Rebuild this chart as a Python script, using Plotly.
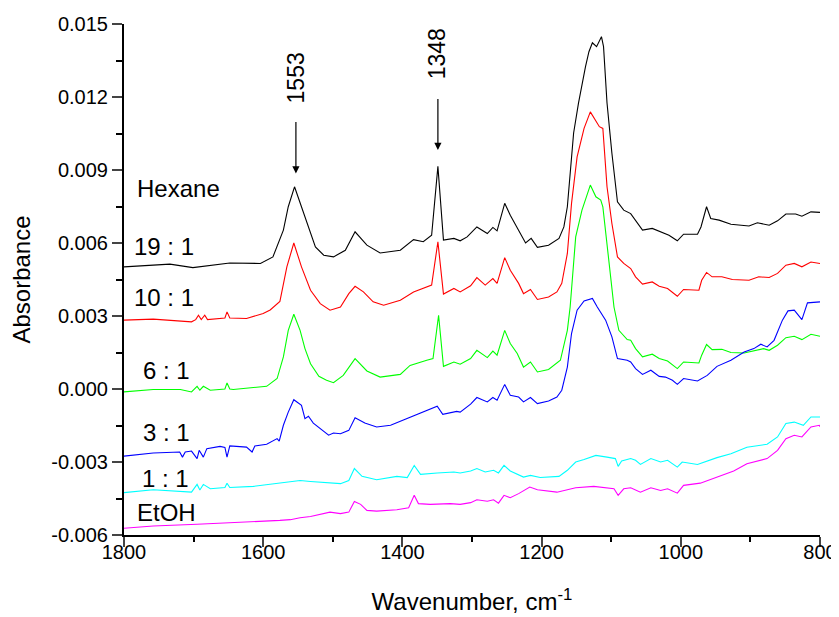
import plotly.graph_objects as go

# ---- data (wavenumber cm-1, absorbance) ----
HEXANE = [(1800,5.02e-3),(1734,5.13e-3),(1701,4.99e-3),(1648,5.18e-3),(1604,5.16e-3),(1586,5.43e-3),
          (1571,6.53e-3),(1564,7.49e-3),(1555,8.31e-3),(1540,7.07e-3),(1525,5.84e-3),(1513,5.50e-3),
          (1499,5.43e-3),(1482,5.70e-3),(1468,6.46e-3),(1451,5.91e-3),(1432,5.59e-3),(1403,5.70e-3),
          (1384,6.14e-3),(1370,6.05e-3),(1358,6.32e-3),(1349,9.15e-3),(1341,6.12e-3),(1326,6.19e-3),
          (1317,6.09e-3),(1307,6.25e-3),(1293,6.66e-3),(1278,6.39e-3),(1270,6.64e-3),(1264,6.50e-3),
          (1253,7.63e-3),(1245,7.14e-3),(1235,6.60e-3),(1223,6.00e-3),(1215,6.19e-3),(1206,5.82e-3),
          (1190,5.91e-3),(1175,6.19e-3),(1168,6.66e-3),(1163,7.49e-3),(1154,10.52e-3),(1147,11.75e-3),
          (1137,13.24e-3),(1132,13.86e-3),(1127,14.23e-3),(1121,14.07e-3),(1114,14.48e-3),(1111,14.07e-3),
          (1106,11.75e-3),(1099,9.69e-3),(1091,7.69e-3),(1082,7.35e-3),(1072,7.21e-3),(1065,6.94e-3),
          (1055,6.53e-3),(1041,6.60e-3),(1029,6.46e-3),(1017,6.32e-3),(1005,6.09e-3),(996,6.36e-3),
          (976,6.36e-3),(971,6.66e-3),(963,7.49e-3),(957,7.01e-3),(945,6.94e-3),(928,6.77e-3),
          (902,6.70e-3),(890,6.83e-3),(873,6.73e-3),(861,6.91e-3),(849,7.19e-3),(835,7.19e-3),
          (826,7.10e-3),(813,7.28e-3),(800,7.26e-3)]

R10_1 = [(1800,2.83e-3),(1758,2.87e-3),(1703,2.76e-3),(1697,2.85e-3),(1693,3.03e-3),(1689,2.85e-3),
         (1684,3.03e-3),(1680,2.85e-3),(1655,2.92e-3),(1652,3.17e-3),(1648,2.92e-3),(1624,2.90e-3),
         (1600,3.10e-3),(1590,3.25e-3),(1576,3.60e-3),(1566,5.02e-3),(1556,6.00e-3),(1545,5.02e-3),
         (1532,4.06e-3),(1518,3.51e-3),(1504,3.24e-3),(1489,3.37e-3),(1477,3.92e-3),(1468,4.22e-3),
         (1456,3.99e-3),(1442,3.58e-3),(1427,3.44e-3),(1403,3.65e-3),(1384,3.99e-3),(1358,4.27e-3),
         (1349,6.05e-3),(1341,3.90e-3),(1326,4.13e-3),(1317,3.99e-3),(1302,4.24e-3),(1293,4.58e-3),
         (1281,4.27e-3),(1270,4.54e-3),(1264,4.34e-3),(1253,5.40e-3),(1245,4.88e-3),(1233,4.34e-3),
         (1226,3.92e-3),(1216,4.09e-3),(1206,3.68e-3),(1190,3.78e-3),(1178,3.99e-3),(1171,4.34e-3),
         (1163,5.57e-3),(1157,7.63e-3),(1149,9.54e-3),(1139,10.71e-3),(1130,11.39e-3),(1122,10.98e-3),
         (1117,10.78e-3),(1112,10.71e-3),(1106,8.31e-3),(1099,6.80e-3),(1091,5.43e-3),(1082,5.16e-3),
         (1072,4.95e-3),(1065,4.61e-3),(1055,4.31e-3),(1041,4.40e-3),(1031,4.22e-3),(1019,4.13e-3),
         (1005,3.81e-3),(996,4.09e-3),(974,4.06e-3),(970,4.47e-3),(963,4.79e-3),(955,4.61e-3),
         (941,4.61e-3),(926,4.50e-3),(902,4.47e-3),(888,4.61e-3),(873,4.58e-3),(861,4.75e-3),
         (849,5.09e-3),(837,5.16e-3),(826,5.02e-3),(813,5.22e-3),(800,5.16e-3)]

R6_1 = [(1800,-0.12e-3),(1758,-0.02e-3),(1719,-0.02e-3),(1703,-0.12e-3),(1695,0.11e-3),(1691,-0.05e-3),
        (1686,0.11e-3),(1676,-0.05e-3),(1655,0.00e-3),(1652,0.25e-3),(1648,0.00e-3),(1643,-0.02e-3),
        (1614,0.06e-3),(1595,0.11e-3),(1580,0.43e-3),(1571,1.32e-3),(1564,2.41e-3),(1556,3.07e-3),
        (1547,2.41e-3),(1540,1.66e-3),(1532,1.04e-3),(1520,0.52e-3),(1509,0.36e-3),(1499,0.26e-3),
        (1485,0.56e-3),(1468,1.25e-3),(1451,0.74e-3),(1432,0.49e-3),(1403,0.60e-3),(1389,0.97e-3),
        (1365,1.18e-3),(1356,1.25e-3),(1348,3.03e-3),(1341,0.93e-3),(1326,1.11e-3),(1317,1.02e-3),
        (1302,1.25e-3),(1293,1.59e-3),(1278,1.29e-3),(1270,1.56e-3),(1264,1.39e-3),(1253,2.41e-3),
        (1245,1.87e-3),(1235,1.46e-3),(1226,0.90e-3),(1216,1.11e-3),(1206,0.70e-3),(1190,0.80e-3),
        (1173,1.18e-3),(1163,2.41e-3),(1159,3.37e-3),(1151,6.25e-3),(1142,7.35e-3),(1130,8.38e-3),
        (1122,7.90e-3),(1115,7.76e-3),(1112,7.49e-3),(1104,5.29e-3),(1096,3.37e-3),(1089,2.41e-3),
        (1077,2.03e-3),(1072,2.00e-3),(1065,1.66e-3),(1055,1.32e-3),(1041,1.43e-3),(1031,1.25e-3),
        (1019,1.15e-3),(1005,0.84e-3),(996,1.11e-3),(974,1.07e-3),(970,1.39e-3),(963,1.83e-3),
        (955,1.62e-3),(941,1.63e-3),(928,1.50e-3),(909,1.48e-3),(895,1.56e-3),(881,1.66e-3),
        (873,1.59e-3),(861,1.80e-3),(849,2.11e-3),(837,2.17e-3),(826,2.03e-3),(813,2.25e-3),
        (800,2.17e-3)]

R3_1 = [(1800,-2.76e-3),(1758,-2.63e-3),(1720,-2.59e-3),(1716,-2.80e-3),(1712,-2.59e-3),(1703,-2.55e-3),
        (1695,-2.86e-3),(1692,-2.52e-3),(1686,-2.80e-3),(1681,-2.45e-3),(1662,-2.36e-3),(1655,-2.40e-3),
        (1652,-2.80e-3),(1648,-2.34e-3),(1624,-2.39e-3),(1616,-2.59e-3),(1612,-2.34e-3),(1595,-2.27e-3),
        (1580,-2.04e-3),(1577,-2.14e-3),(1571,-1.49e-3),(1564,-0.95e-3),(1556,-0.44e-3),(1547,-0.60e-3),
        (1545,-0.67e-3),(1540,-1.22e-3),(1535,-1.12e-3),(1528,-1.40e-3),(1518,-1.63e-3),(1506,-1.90e-3),
        (1499,-1.81e-3),(1489,-1.84e-3),(1477,-1.70e-3),(1468,-1.18e-3),(1454,-1.40e-3),(1437,-1.56e-3),
        (1417,-1.49e-3),(1393,-1.22e-3),(1370,-0.95e-3),(1350,-0.71e-3),(1342,-1.04e-3),(1322,-0.92e-3),
        (1317,-0.95e-3),(1302,-0.62e-3),(1293,-0.35e-3),(1278,-0.53e-3),(1270,-0.35e-3),(1264,-0.46e-3),
        (1253,0.19e-3),(1245,-0.26e-3),(1233,-0.33e-3),(1226,-0.53e-3),(1216,-0.35e-3),(1206,-0.60e-3),
        (1190,-0.49e-3),(1178,-0.33e-3),(1171,-0.05e-3),(1163,0.90e-3),(1157,2.28e-3),(1149,3.24e-3),
        (1139,3.62e-3),(1127,3.72e-3),(1120,3.37e-3),(1108,2.83e-3),(1099,2.14e-3),(1091,1.25e-3),
        (1077,1.18e-3),(1072,1.11e-3),(1065,0.84e-3),(1055,0.60e-3),(1043,0.77e-3),(1031,0.52e-3),
        (1022,0.49e-3),(1012,0.36e-3),(1005,0.19e-3),(996,0.43e-3),(976,0.33e-3),(962,0.56e-3),
        (948,0.93e-3),(928,1.18e-3),(909,1.52e-3),(895,1.66e-3),(885,1.84e-3),(876,1.73e-3),
        (866,2.00e-3),(854,2.83e-3),(846,3.21e-3),(837,3.24e-3),(826,2.85e-3),(818,3.54e-3),
        (800,3.58e-3)]

R1_1 = [(1800,-4.26e-3),(1758,-4.14e-3),(1703,-4.24e-3),(1695,-3.92e-3),(1691,-4.15e-3),(1686,-3.92e-3),
        (1676,-4.10e-3),(1655,-4.05e-3),(1652,-3.87e-3),(1648,-4.05e-3),(1614,-4.00e-3),(1576,-3.87e-3),
        (1561,-3.83e-3),(1547,-3.76e-3),(1532,-3.80e-3),(1513,-3.83e-3),(1489,-3.89e-3),(1477,-3.76e-3),
        (1469,-3.27e-3),(1458,-3.59e-3),(1437,-3.73e-3),(1408,-3.59e-3),(1393,-3.64e-3),(1383,-3.14e-3),
        (1374,-3.51e-3),(1350,-3.45e-3),(1326,-3.41e-3),(1317,-3.45e-3),(1302,-3.37e-3),(1293,-3.27e-3),
        (1281,-3.41e-3),(1269,-3.34e-3),(1262,-3.45e-3),(1254,-3.14e-3),(1245,-3.37e-3),(1226,-3.62e-3),
        (1216,-3.55e-3),(1202,-3.64e-3),(1175,-3.59e-3),(1163,-3.34e-3),(1151,-3.00e-3),(1139,-2.90e-3),
        (1122,-2.73e-3),(1106,-2.80e-3),(1094,-2.86e-3),(1090,-3.18e-3),(1085,-2.96e-3),(1072,-2.86e-3),
        (1065,-2.93e-3),(1058,-3.10e-3),(1043,-2.86e-3),(1029,-3.00e-3),(1019,-2.93e-3),(1005,-3.21e-3),
        (998,-3.00e-3),(976,-3.10e-3),(948,-2.82e-3),(928,-2.66e-3),(905,-2.39e-3),(876,-2.27e-3),
        (861,-1.97e-3),(849,-1.42e-3),(837,-1.36e-3),(824,-1.49e-3),(813,-1.15e-3),(800,-1.15e-3)]

ETOH = [(1800,-5.72e-3),(1758,-5.63e-3),(1695,-5.56e-3),(1652,-5.51e-3),(1614,-5.47e-3),(1576,-5.40e-3),
        (1561,-5.37e-3),(1547,-5.29e-3),(1532,-5.24e-3),(1504,-5.06e-3),(1489,-5.12e-3),(1477,-5.06e-3),
        (1469,-4.62e-3),(1460,-4.74e-3),(1451,-4.99e-3),(1437,-5.02e-3),(1408,-4.96e-3),(1391,-4.88e-3),
        (1383,-4.37e-3),(1377,-4.71e-3),(1360,-4.74e-3),(1331,-4.71e-3),(1317,-4.74e-3),(1302,-4.67e-3),
        (1293,-4.55e-3),(1278,-4.61e-3),(1269,-4.55e-3),(1262,-4.69e-3),(1254,-4.37e-3),(1245,-4.47e-3),
        (1233,-4.30e-3),(1217,-4.03e-3),(1206,-4.14e-3),(1178,-4.24e-3),(1151,-4.06e-3),(1125,-4.00e-3),
        (1096,-4.10e-3),(1090,-4.37e-3),(1082,-4.10e-3),(1072,-4.06e-3),(1058,-4.24e-3),(1043,-4.06e-3),
        (1029,-4.17e-3),(1019,-4.10e-3),(1005,-4.28e-3),(996,-3.96e-3),(972,-3.87e-3),(948,-3.62e-3),
        (924,-3.37e-3),(905,-3.07e-3),(876,-2.86e-3),(861,-2.52e-3),(849,-2.04e-3),(837,-1.90e-3),
        (826,-1.97e-3),(813,-1.56e-3),(801,-1.49e-3),(800,-1.55e-3)]

SERIES = [("Hexane", HEXANE, "#000000"), ("10 : 1", R10_1, "#FF0000"), ("6 : 1", R6_1, "#00FF00"),
          ("3 : 1", R3_1, "#0000FF"), ("1 : 1", R1_1, "#00FFFF"), ("EtOH", ETOH, "#FF00FF")]

# curve labels: (text, wavenumber, absorbance)
LABELS = [("Hexane", 1784, 8.25e-3), ("19 : 1", 1789, 5.87e-3), ("10 : 1", 1789, 3.77e-3),
          ("6 : 1", 1775, 0.77e-3), ("3 : 1", 1775, -1.77e-3), ("1 : 1", 1777, -3.69e-3),
          ("EtOH", 1784, -5.06e-3)]

# peak markers: (label, wavenumber, text y, arrow start y, arrow tip y)
PEAKS = [("1553", 1553, 12.8e-3, 11.05e-3, 8.86e-3), ("1348", 1349, 13.79e-3, 12.0e-3, 9.82e-3)]

Y_TICKS = [-0.006, -0.003, 0.000, 0.003, 0.006, 0.009, 0.012, 0.015]
Y_TICKTEXT = ["-0.006", "-0.003", "0.000", "0.003", "0.006", "0.009", "0.012", "0.015"]
X_TICKS = [1800, 1600, 1400, 1200, 1000, 800]

FONT = "Liberation Sans, Arial, sans-serif"

fig = go.Figure()
for name, pts, col in SERIES:
    xs = [p[0] for p in pts]
    ys = [p[1] for p in pts]
    fig.add_trace(go.Scatter(x=xs, y=ys, mode="lines", name=name,
                             line=dict(color=col, width=1.1), showlegend=False))

for text, xw, ya in LABELS:
    fig.add_annotation(x=xw, y=ya, text=text, showarrow=False, xanchor="left", yanchor="middle",
                       font=dict(family=FONT, size=24, color="black"))

for text, xw, yt, y0, y1 in PEAKS:
    fig.add_annotation(x=xw, y=yt, text=text, showarrow=False, textangle=-90,
                       font=dict(family=FONT, size=23, color="black"))
    fig.add_annotation(x=xw, y=y1, ax=xw, ay=y0, axref="x", ayref="y", text=" ",
                       showarrow=True, arrowhead=2, arrowsize=1.2, arrowwidth=1.2, arrowcolor="black",
                       font=dict(size=1))

# the page body keeps an 8px margin, so the figure is sized to end at the window edge
fig.update_layout(
    width=831, height=609,
    margin=dict(l=116, r=19, t=16, b=82),
    paper_bgcolor="white", plot_bgcolor="white",
    font=dict(family=FONT, size=20, color="black"),
)
fig.update_xaxes(range=[1800, 800], tickvals=X_TICKS, ticks="outside", ticklen=10, tickwidth=1.5,
                 showline=True, linecolor="black", linewidth=2, showgrid=False, zeroline=False,
                 automargin=False, ticklabeloverflow="allow", ticklabelstandoff=-12,
                 tickfont=dict(family=FONT, size=20),
                 minor=dict(tickmode="linear", tick0=800, dtick=100, ticks="outside", ticklen=5,
                            tickwidth=1.5, tickcolor="black", showgrid=False),
                 title=dict(text="Wavenumber, cm<sup>-1</sup>", font=dict(family=FONT, size=24),
                            standoff=31))
fig.update_yaxes(range=[-0.006, 0.015], tickvals=Y_TICKS, ticktext=Y_TICKTEXT, ticks="outside",
                 ticklen=10, tickwidth=1.5, showline=True, linecolor="black", linewidth=2,
                 showgrid=False, zeroline=False, automargin=False, ticklabeloverflow="allow",
                 tickfont=dict(family=FONT, size=20),
                 minor=dict(tickmode="linear", tick0=-0.006, dtick=0.0015, ticks="outside", ticklen=6,
                            tickwidth=1.5, tickcolor="black", showgrid=False),
                 title=dict(text="Absorbance", font=dict(family=FONT, size=24), standoff=14))

fig.write_html("out.html")
